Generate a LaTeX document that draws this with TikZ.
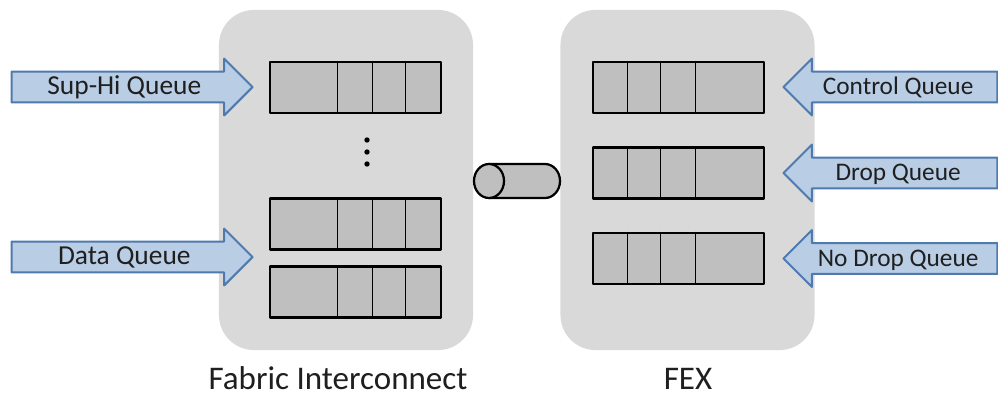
\documentclass[tikz,border=0pt]{standalone}
\usepackage{fontspec}
\setmainfont{Carlito}
\usetikzlibrary{shapes.arrows,calc}
\definecolor{panelgray}{HTML}{D9D9D9}
\definecolor{cellgray}{HTML}{BFBFBF}
\definecolor{qfill}{HTML}{B9CDE5}
\definecolor{qline}{HTML}{4F7AAE}
\definecolor{qink}{HTML}{1F1F1F}

\begin{document}
\begin{tikzpicture}[x=0.025cm,y=-0.025cm,line join=round,text=qink,
  panel/.style={fill=panelgray,rounded corners=0.875cm,minimum width=6.35cm,minimum height=8.5cm,inner sep=0pt},
  queue/.style={draw=black,fill=cellgray,line width=1.9pt,minimum width=4.275cm,minimum height=1.275cm,inner sep=0pt},
  cellline/.style={black,line width=1pt},
  pipe/.style={draw=black,fill=cellgray,line width=1.6pt},
  inarrow/.style={single arrow,draw=qline,fill=qfill,line width=1.4pt,single arrow head extend=0.325cm,
    inner ysep=0pt,inner xsep=2pt,text height=15.8pt,text depth=4.8pt,font=\fontsize{19.5}{22}\selectfont},
  fexarrow/.style={inarrow,shape border rotate=180,minimum height=5.35cm,font=\fontsize{18}{20}\selectfont},
  caption/.style={font=\fontsize{23.5}{26}\selectfont,anchor=base}]
\path[use as bounding box] (0,0) rectangle (998,396);
\fill[white] (0,0) rectangle (998,396);
\node[panel] (fi) at (346,180) {};
\node[panel] (fex) at (687.5,180) {};
\node[queue] (fq1) at (355.5,87.5) {};
\node[queue] (fq2) at (355.5,224) {};
\node[queue] (fq3) at (355.5,292) {};
\node[queue] (xq1) at (678.5,87.5) {};
\node[queue] (xq2) at (678.5,173) {};
\node[queue] (xq3) at (678.5,258.5) {};
\foreach \q in {fq1,fq2,fq3}
  \foreach \d in {69,104,137}
    \draw[cellline] ($(\q.north west)+(\d,0)$)--($(\q.south west)+(\d,0)$);
\foreach \q in {xq1,xq2,xq3}
  \foreach \d in {36,69,104}
    \draw[cellline] ($(\q.north west)+(\d,0)$)--($(\q.south west)+(\d,0)$);
\foreach \y in {140,152,164}
  \fill (367,\y) circle[radius=1.9pt];
\filldraw[pipe] (489,164)--(545,164) arc[start angle=90,end angle=-90,x radius=0.375cm,y radius=0.425cm]--(489,198)--cycle;
\filldraw[pipe] (489,181) ellipse[x radius=0.375cm,y radius=0.425cm];
\node[inarrow,minimum height=6.025cm,anchor=tip] (suphi) at (254,87) {Sup-Hi Queue};
\node[inarrow,minimum height=6.025cm,anchor=tip] (data) at (254,257) {Data Queue};
\node[fexarrow,anchor=tip] (ctrl) at (782,87) {Control Queue};
\node[fexarrow,anchor=tip] (drop) at (782,173) {Drop Queue};
\node[fexarrow,anchor=tip] (nodrop) at (782,258.5) {No Drop Queue};
\node[caption] (ficap) at (338,389) {Fabric Interconnect};
\node[caption] (fexcap) at (688,389) {FEX};
\end{tikzpicture}
\end{document}
